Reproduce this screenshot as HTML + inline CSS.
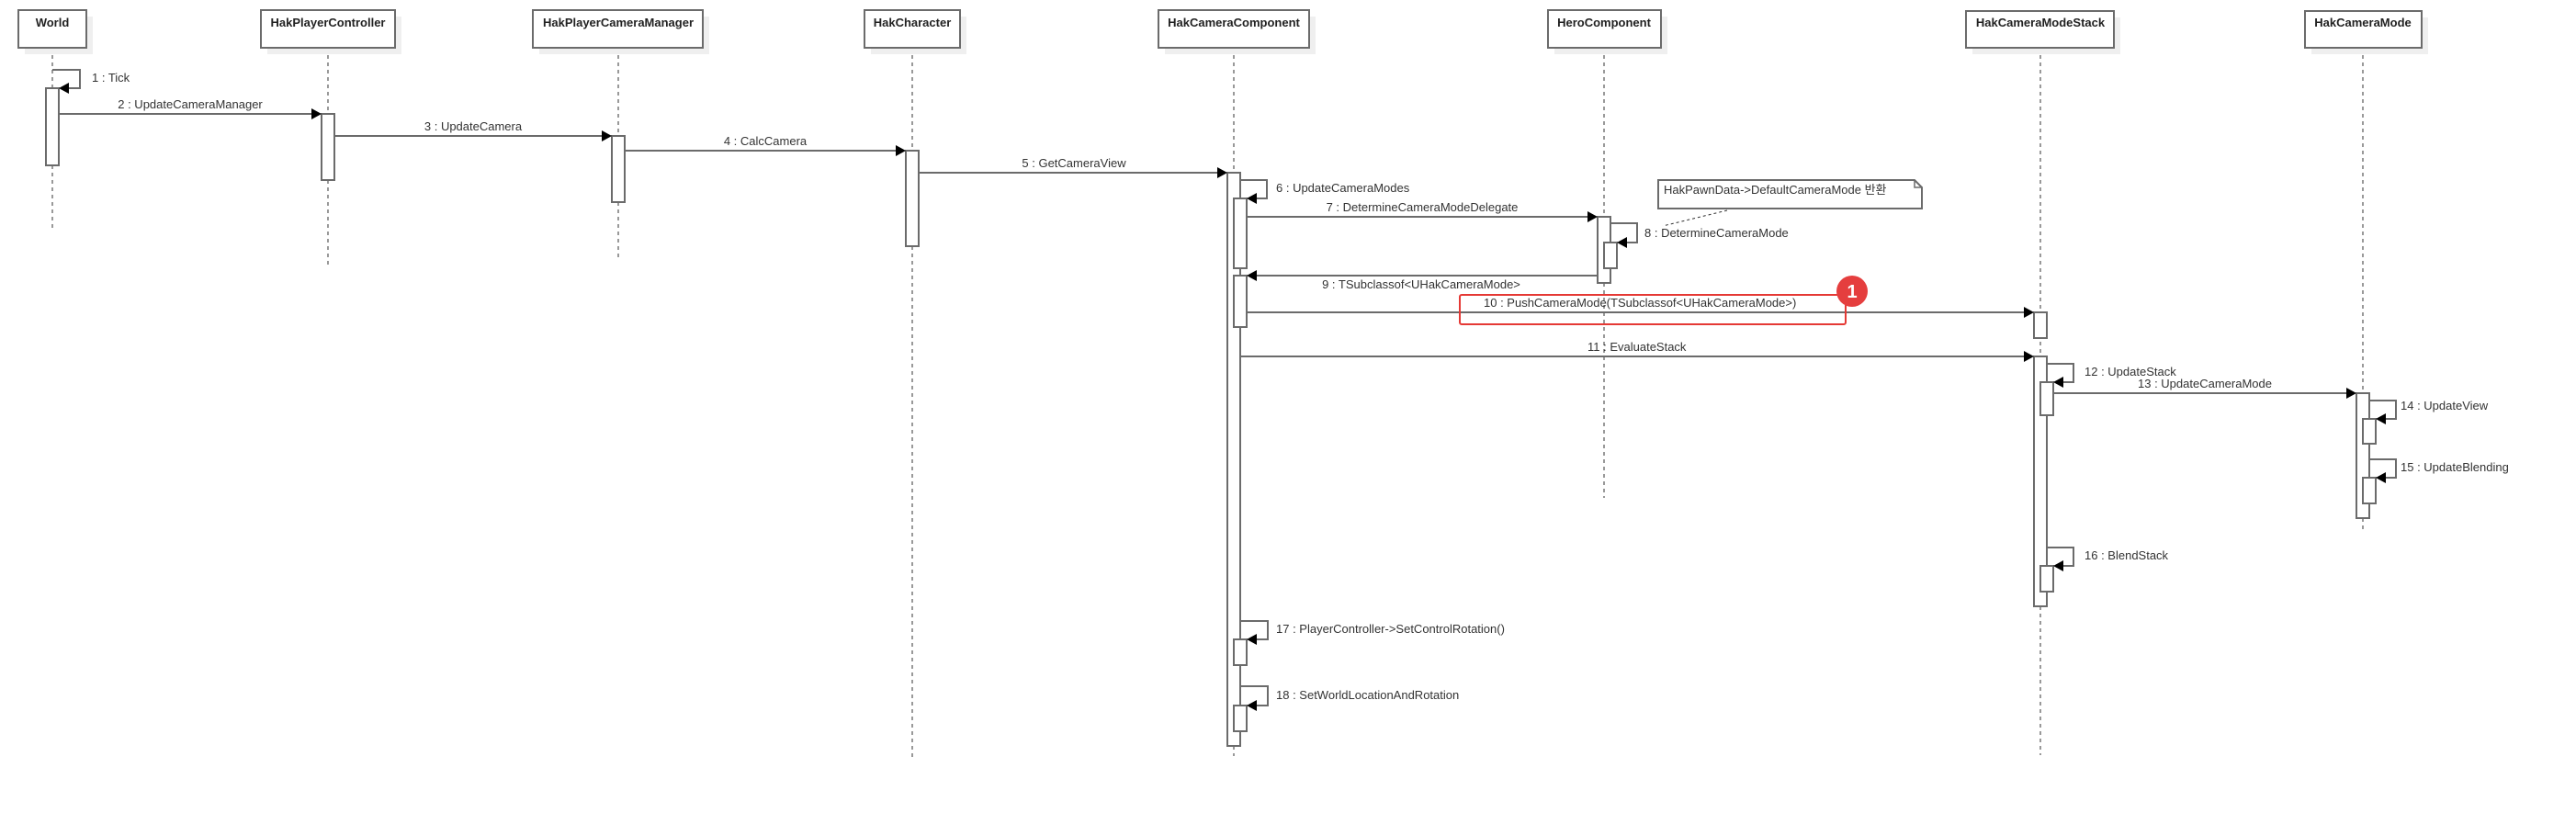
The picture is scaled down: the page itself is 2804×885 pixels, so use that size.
<!DOCTYPE html>
<html><head><meta charset="utf-8"><style>
html,body{margin:0;padding:0;background:#fff;}
svg{display:block;}
text{font-family:"Liberation Sans","Noto Sans CJK KR",sans-serif;font-size:13px;fill:#333;}
.h{font-weight:bold;font-size:13px;fill:#222;}
.box{fill:#fff;stroke:#6b6b6b;stroke-width:2;}
.sh{fill:#efefef;}
.ll{stroke:#333;stroke-width:1;stroke-dasharray:4,4;}
.act{fill:#fff;stroke:#6b6b6b;stroke-width:2;}
.m{stroke:#6b6b6b;stroke-width:2;fill:none;}
.ah{fill:#000;}
</style></head><body>
<svg width="2804" height="885" viewBox="0 0 2804 885" xmlns="http://www.w3.org/2000/svg">
<!-- lifelines -->
<line class="ll" x1="57" y1="52" x2="57" y2="252"/>
<line class="ll" x1="357" y1="52" x2="357" y2="290"/>
<line class="ll" x1="673" y1="52" x2="673" y2="282"/>
<line class="ll" x1="993" y1="52" x2="993" y2="824"/>
<line class="ll" x1="1343" y1="52" x2="1343" y2="823"/>
<line class="ll" x1="1746" y1="52" x2="1746" y2="542"/>
<line class="ll" x1="2221" y1="52" x2="2221" y2="822"/>
<line class="ll" x1="2572" y1="52" x2="2572" y2="578"/>

<!-- headers -->
<rect class="sh" x="27" y="18" width="74" height="41"/><rect class="box" x="20" y="11" width="74" height="41"/><text class="h" x="57" y="29" text-anchor="middle">World</text>
<rect class="sh" x="291" y="18" width="146" height="41"/><rect class="box" x="284" y="11" width="146" height="41"/><text class="h" x="357" y="29" text-anchor="middle">HakPlayerController</text>
<rect class="sh" x="587" y="18" width="185" height="41"/><rect class="box" x="580" y="11" width="185" height="41"/><text class="h" x="673" y="29" text-anchor="middle">HakPlayerCameraManager</text>
<rect class="sh" x="948" y="18" width="104" height="41"/><rect class="box" x="941" y="11" width="104" height="41"/><text class="h" x="993" y="29" text-anchor="middle">HakCharacter</text>
<rect class="sh" x="1268" y="18" width="164" height="41"/><rect class="box" x="1261" y="11" width="164" height="41"/><text class="h" x="1343" y="29" text-anchor="middle">HakCameraComponent</text>
<rect class="sh" x="1692" y="18" width="123" height="41"/><rect class="box" x="1685" y="11" width="123" height="41"/><text class="h" x="1746" y="29" text-anchor="middle">HeroComponent</text>
<rect class="sh" x="2147" y="19" width="161" height="40"/><rect class="box" x="2140" y="12" width="161" height="40"/><text class="h" x="2221" y="29" text-anchor="middle">HakCameraModeStack</text>
<rect class="sh" x="2516" y="19" width="127" height="40"/><rect class="box" x="2509" y="12" width="127" height="40"/><text class="h" x="2572" y="29" text-anchor="middle">HakCameraMode</text>

<!-- activations -->
<rect class="act" x="50" y="96" width="14" height="84"/>
<rect class="act" x="350" y="124" width="14" height="72"/>
<rect class="act" x="666" y="148" width="14" height="72"/>
<rect class="act" x="986" y="164" width="14" height="104"/>
<rect class="act" x="1336" y="188" width="14" height="624"/>
<rect class="act" x="1343" y="216" width="14" height="76"/>
<rect class="act" x="1343" y="300" width="14" height="56"/>
<rect class="act" x="1343" y="696" width="14" height="28"/>
<rect class="act" x="1343" y="768" width="14" height="28"/>
<rect class="act" x="1739" y="236" width="14" height="72"/>
<rect class="act" x="1746" y="264" width="14" height="28"/>
<rect class="act" x="2214" y="340" width="14" height="28"/>
<rect class="act" x="2214" y="388" width="14" height="272"/>
<rect class="act" x="2221" y="416" width="14" height="36"/>
<rect class="act" x="2221" y="616" width="14" height="28"/>
<rect class="act" x="2565" y="428" width="14" height="136"/>
<rect class="act" x="2572" y="456" width="14" height="27"/>
<rect class="act" x="2572" y="520" width="14" height="28"/>

<!-- self messages -->
<polyline class="m" points="57,76 87,76 87,96 74,96"/><polygon class="ah" points="64,96 75,90 75,102"/>
<text x="100" y="89">1 : Tick</text>
<polyline class="m" points="1350,196 1379,196 1379,216 1367,216"/><polygon class="ah" points="1357,216 1368,210 1368,222"/>
<text x="1389" y="209">6 : UpdateCameraModes</text>
<polyline class="m" points="1753,243 1782,243 1782,264 1770,264"/><polygon class="ah" points="1760,264 1771,258 1771,270"/>
<text x="1790" y="258">8 : DetermineCameraMode</text>
<polyline class="m" points="2228,396 2257,396 2257,416 2245,416"/><polygon class="ah" points="2235,416 2246,410 2246,422"/>
<text x="2269" y="409">12 : UpdateStack</text>
<polyline class="m" points="2579,436 2608,436 2608,456 2596,456"/><polygon class="ah" points="2586,456 2597,450 2597,462"/>
<text x="2613" y="446">14 : UpdateView</text>
<polyline class="m" points="2579,500 2608,500 2608,520 2596,520"/><polygon class="ah" points="2586,520 2597,514 2597,526"/>
<text x="2613" y="513">15 : UpdateBlending</text>
<polyline class="m" points="2228,596 2257,596 2257,616 2245,616"/><polygon class="ah" points="2235,616 2246,610 2246,622"/>
<text x="2269" y="609">16 : BlendStack</text>
<polyline class="m" points="1350,676 1380,676 1380,696 1367,696"/><polygon class="ah" points="1357,696 1368,690 1368,702"/>
<text x="1389" y="689">17 : PlayerController-&gt;SetControlRotation()</text>
<polyline class="m" points="1350,747 1380,747 1380,768 1367,768"/><polygon class="ah" points="1357,768 1368,762 1368,774"/>
<text x="1389" y="761">18 : SetWorldLocationAndRotation</text>

<!-- messages -->
<line class="m" x1="64" y1="124" x2="342" y2="124"/><polygon class="ah" points="350,124 339,118 339,130"/>
<text x="207" y="118" text-anchor="middle">2 : UpdateCameraManager</text>
<line class="m" x1="364" y1="148" x2="658" y2="148"/><polygon class="ah" points="666,148 655,142 655,154"/>
<text x="515" y="142" text-anchor="middle">3 : UpdateCamera</text>
<line class="m" x1="680" y1="164" x2="978" y2="164"/><polygon class="ah" points="986,164 975,158 975,170"/>
<text x="833" y="158" text-anchor="middle">4 : CalcCamera</text>
<line class="m" x1="1000" y1="188" x2="1328" y2="188"/><polygon class="ah" points="1336,188 1325,182 1325,194"/>
<text x="1169" y="182" text-anchor="middle">5 : GetCameraView</text>
<line class="m" x1="1357" y1="236" x2="1731" y2="236"/><polygon class="ah" points="1739,236 1728,230 1728,242"/>
<text x="1548" y="230" text-anchor="middle">7 : DetermineCameraModeDelegate</text>
<line class="m" x1="1739" y1="300" x2="1365" y2="300"/><polygon class="ah" points="1357,300 1368,294 1368,306"/>
<text x="1547" y="314" text-anchor="middle">9 : TSubclassof&lt;UHakCameraMode&gt;</text>
<line class="m" x1="1357" y1="340" x2="2206" y2="340"/><polygon class="ah" points="2214,340 2203,334 2203,346"/>
<text x="1615" y="334">10 : PushCameraMode(TSubclassof&lt;UHakCameraMode&gt;)</text>
<line class="m" x1="1350" y1="388" x2="2206" y2="388"/><polygon class="ah" points="2214,388 2203,382 2203,394"/>
<text x="1728" y="382">11 : EvaluateStack</text>
<line class="m" x1="2235" y1="428" x2="2557" y2="428"/><polygon class="ah" points="2565,428 2554,422 2554,434"/>
<text x="2327" y="422">13 : UpdateCameraMode</text>

<!-- note -->
<path d="M1805,196 L2084,196 L2092,204 L2092,227 L1805,227 Z" fill="#fff" stroke="#6b6b6b" stroke-width="2"/>
<path d="M2084,196 L2084,204 L2092,204" fill="none" stroke="#6b6b6b" stroke-width="1.5"/>
<text x="1811" y="211">HakPawnData-&gt;DefaultCameraMode 반환</text>
<line x1="1880" y1="229" x2="1810" y2="246" stroke="#333" stroke-width="1" stroke-dasharray="3,3"/>

<!-- red highlight -->
<rect x="1589" y="321" width="420" height="32" rx="2" fill="none" stroke="#e53935" stroke-width="2"/>
<circle cx="2016" cy="317" r="17" fill="#e53e3e"/>
<text x="2016" y="324" text-anchor="middle" style="font-size:20px;font-weight:bold;fill:#fff">1</text>
</svg>
</body></html>
